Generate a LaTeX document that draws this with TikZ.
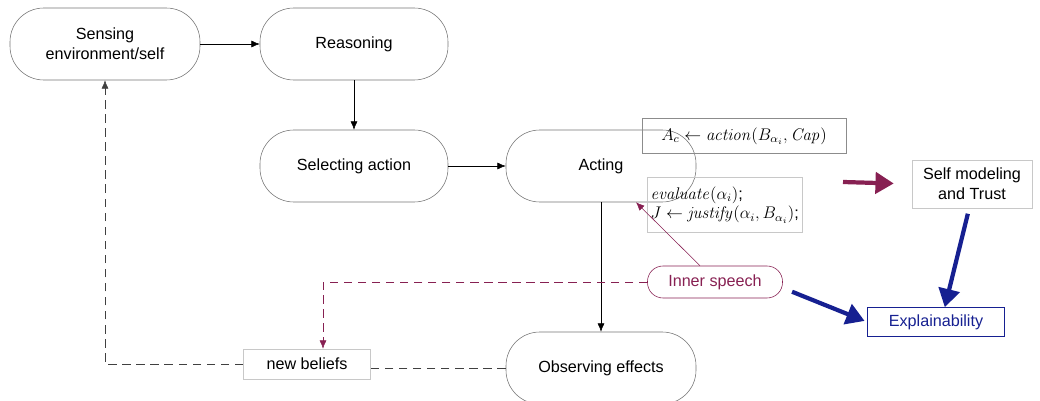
\documentclass[tikz,border=0pt]{standalone}
\usepackage{amsmath}
\usepackage[no-math]{fontspec}
\setmainfont{Liberation Sans}
\usepackage{tikz}
\usetikzlibrary{positioning,arrows.meta}

\definecolor{speechred}{RGB}{135,32,82}
\definecolor{explblue}{RGB}{22,32,145}
\definecolor{boxgray}{RGB}{200,200,200}

\tikzset{
  stage/.style={draw=black!55, rounded corners=24pt, minimum width=4.75cm,
    minimum height=1.8cm, align=center},
  note/.style={draw=boxgray, align=center},
  flow/.style={-{Latex[length=6pt,width=5pt]}},
  belief/.style={dashed, dash pattern=on 6pt off 4pt},
  heavy/.style={line width=3pt, -{Triangle[length=13pt,width=15pt]}}
}

\begin{document}
\begin{tikzpicture}[font=\fontsize{11.5}{14}\selectfont]
\useasboundingbox (0,0) rectangle (26,-10.025);
\node [stage] (sense) at (2.625,-1.1) {Sensing\\environment/self};
\node [stage, minimum width=4.7cm] (reason) at (8.85,-1.1) {Reasoning};
\node [stage, minimum width=4.7cm] (select) at (8.85,-4.15) {Selecting action};
\node [stage] (act) at (15.025,-4.15) {Acting};
\node [stage] (observe) at (15.025,-9.2) {Observing effects};
\node [note, minimum width=3.175cm, minimum height=0.75cm] (beliefs) at (7.675,-9.1) {new beliefs};
\node [draw=black!45, minimum width=5.1cm, minimum height=0.875cm] (action) at (18.6,-3.4)
  {$A_c \leftarrow \mathit{action}(B_{\alpha_i},\mathit{Cap})$};
\node [note, minimum width=3.875cm, minimum height=1.375cm, align=left, anchor=north west,
  inner sep=2pt] (justify) at (16.175,-4.425)
  {$\mathit{evaluate}(\alpha_i)$;\\$J \leftarrow \mathit{justify}(\alpha_i,B_{\alpha_i})$;};
\node [draw=speechred, text=speechred, rounded corners=11pt, minimum width=3.375cm,
  minimum height=0.8cm] (speech) at (17.875,-7.05) {Inner speech};
\node [draw=explblue, text=explblue, minimum width=3.425cm, minimum height=0.725cm]
  (explain) at (23.4,-8.05) {Explainability};
\node [note, minimum width=3cm, minimum height=1.2cm] (selfmodel) at (24.3,-4.6) {Self modeling\\and Trust};
\coordinate (trust) at (21.075,-4.55);

\draw [flow] (sense) -- (reason);
\draw [flow] (reason) -- (select);
\draw [flow] (select) -- (act);
\draw [flow] (act) -- (observe);
\draw [belief, black!75] (observe.west) -- (observe.west -| beliefs.east);
\draw [flow, belief, black!75] (beliefs.west) -| (sense.south);
\draw [flow, belief, speechred] (speech.west) -| ([xshift=0.4cm]beliefs.north);
\draw [flow, speechred] ([xshift=-0.375cm]speech.north) -- ([xshift=0.875cm]act.south);
\draw [heavy, speechred, shorten >=0.45cm] (trust) -- (selfmodel.west);
\draw [heavy, explblue, shorten <=4pt] ([xshift=-2pt]selfmodel.south) -- ([xshift=0.22cm]explain.north);
\draw [heavy, explblue, shorten <=0.25cm, shorten >=2pt] ([yshift=-0.15cm]speech.east) -- (explain.west);
\end{tikzpicture}
\end{document}
